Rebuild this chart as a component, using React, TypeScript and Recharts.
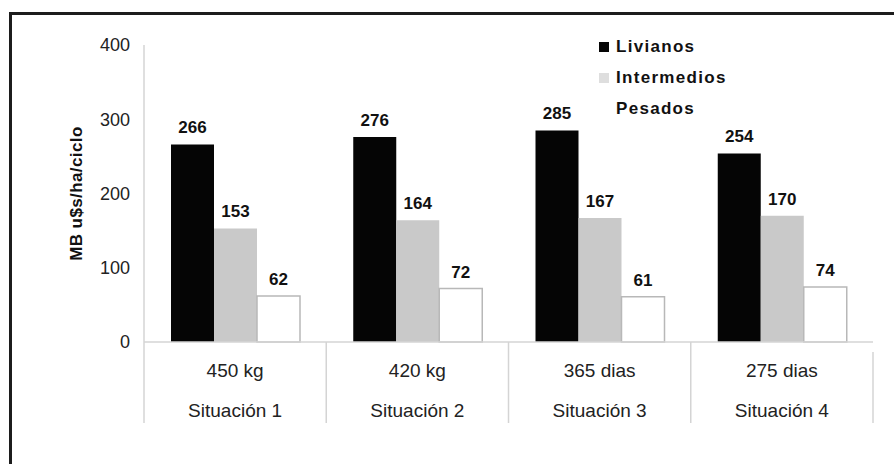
import { BarChart, Bar, XAxis, YAxis, LabelList } from "recharts";

const weights = ["450 kg", "420 kg", "365 dias", "275 dias"];
const situations = ["Situación 1", "Situación 2", "Situación 3", "Situación 4"];
const livianos = [266, 276, 285, 254];
const intermedios = [153, 164, 167, 170];
const pesados = [62, 72, 61, 74];
const yTicks = [0, 100, 200, 300, 400];

const series = [
  { key: "livianos", name: "Livianos", color: "#050505", stroke: "none" },
  { key: "intermedios", name: "Intermedios", color: "#c9c9c9", stroke: "none" },
  { key: "pesados", name: "Pesados", color: "#ffffff", stroke: "#b8b8b8" },
];

const data = weights.map((w, i) => ({
  weight: w,
  situation: situations[i],
  livianos: livianos[i],
  intermedios: intermedios[i],
  pesados: pesados[i],
}));

const FONT = "'Liberation Sans', Arial, sans-serif";

const CategoryTick = (props: any) => {
  const { x, y, payload, index } = props;
  const half = payload && payload.offset ? payload.offset : 91;
  const item = data[index] || data.find((d) => d.weight === payload.value);
  return (
    <g>
      <line x1={x - half} y1={y} x2={x - half} y2={y + 81} stroke="#d4d4d4" strokeWidth={1.5} />
      {index === data.length - 1 && (
        <line x1={x + half} y1={y + 10} x2={x + half} y2={y + 81} stroke="#d4d4d4" strokeWidth={1.5} />
      )}
      <text x={x} y={y + 35} textAnchor="middle" fontSize={19} fill="#222" fontFamily={FONT}>
        {item ? item.weight : payload.value}
      </text>
      <text x={x} y={y + 75} textAnchor="middle" fontSize={19} fill="#222" fontFamily={FONT}>
        {item ? item.situation : ""}
      </text>
    </g>
  );
};

const YLabel = (props: any) => {
  const vb = props.viewBox || {};
  const cy = vb.y + vb.height / 2;
  const cx = 76;
  return (
    <text
      x={cx}
      y={cy}
      transform={`rotate(-90, ${cx}, ${cy})`}
      textAnchor="middle"
      dominantBaseline="central"
      fontSize={17}
      fontWeight="bold"
      letterSpacing={0.4}
      fill="#111"
      fontFamily={FONT}
    >
      MB u$s/ha/ciclo
    </text>
  );
};

export default function App() {
  return (
    <div
      style={{
        position: "fixed",
        left: 0,
        top: 0,
        width: 894,
        height: 464,
        overflow: "hidden",
        background: "#fff",
        fontFamily: FONT,
      }}
    >
      <div
        style={{
          position: "absolute",
          left: 9,
          top: 12,
          width: 900,
          height: 470,
          border: "3px solid #1c1c1c",
        }}
      />
      <div style={{ position: "absolute", left: 0, top: 0 }}>
        <BarChart
          width={894}
          height={464}
          data={data}
          margin={{ top: 45, right: 21, bottom: 41, left: 64 }}
          barGap={0}
        >
          <XAxis
            dataKey="weight"
            height={81}
            tickLine={false}
            tickSize={0}
            tickMargin={0}
            axisLine={{ stroke: "#d4d4d4", strokeWidth: 1.5 }}
            tick={<CategoryTick />}
            interval={0}
          />
          <YAxis
            width={80}
            domain={[0, 400]}
            ticks={yTicks}
            tickLine={false}
            tickSize={0}
            tickMargin={14}
            axisLine={{ stroke: "#d4d4d4", strokeWidth: 1.5 }}
            tick={{ fontSize: 18, fill: "#222", fontFamily: FONT }}
            label={<YLabel />}
          />
          {series.map((s) => (
            <Bar
              key={s.key}
              dataKey={s.key}
              name={s.name}
              fill={s.color}
              stroke={s.stroke}
              strokeWidth={1.5}
              barSize={43}
              isAnimationActive={false}
            >
              <LabelList
                dataKey={s.key}
                position="top"
                offset={11}
                fontSize={17}
                fontWeight="bold"
                fill="#111"
                fontFamily={FONT}
              />
            </Bar>
          ))}
        </BarChart>
      </div>
      <div style={{ position: "absolute", left: 599, top: 31 }}>
        {series.map((s) => (
          <div
            key={s.key}
            style={{ display: "flex", alignItems: "center", height: 31 }}
          >
            <span
              style={{
                display: "inline-block",
                width: 10,
                height: 10,
                background: s.key === "intermedios" ? "#dedede" : s.color,
                marginRight: 7,
              }}
            />
            <span
              style={{
                fontSize: 17,
                fontWeight: "bold",
                letterSpacing: 1.3,
                color: "#111",
              }}
            >
              {s.name}
            </span>
          </div>
        ))}
      </div>
    </div>
  );
}
